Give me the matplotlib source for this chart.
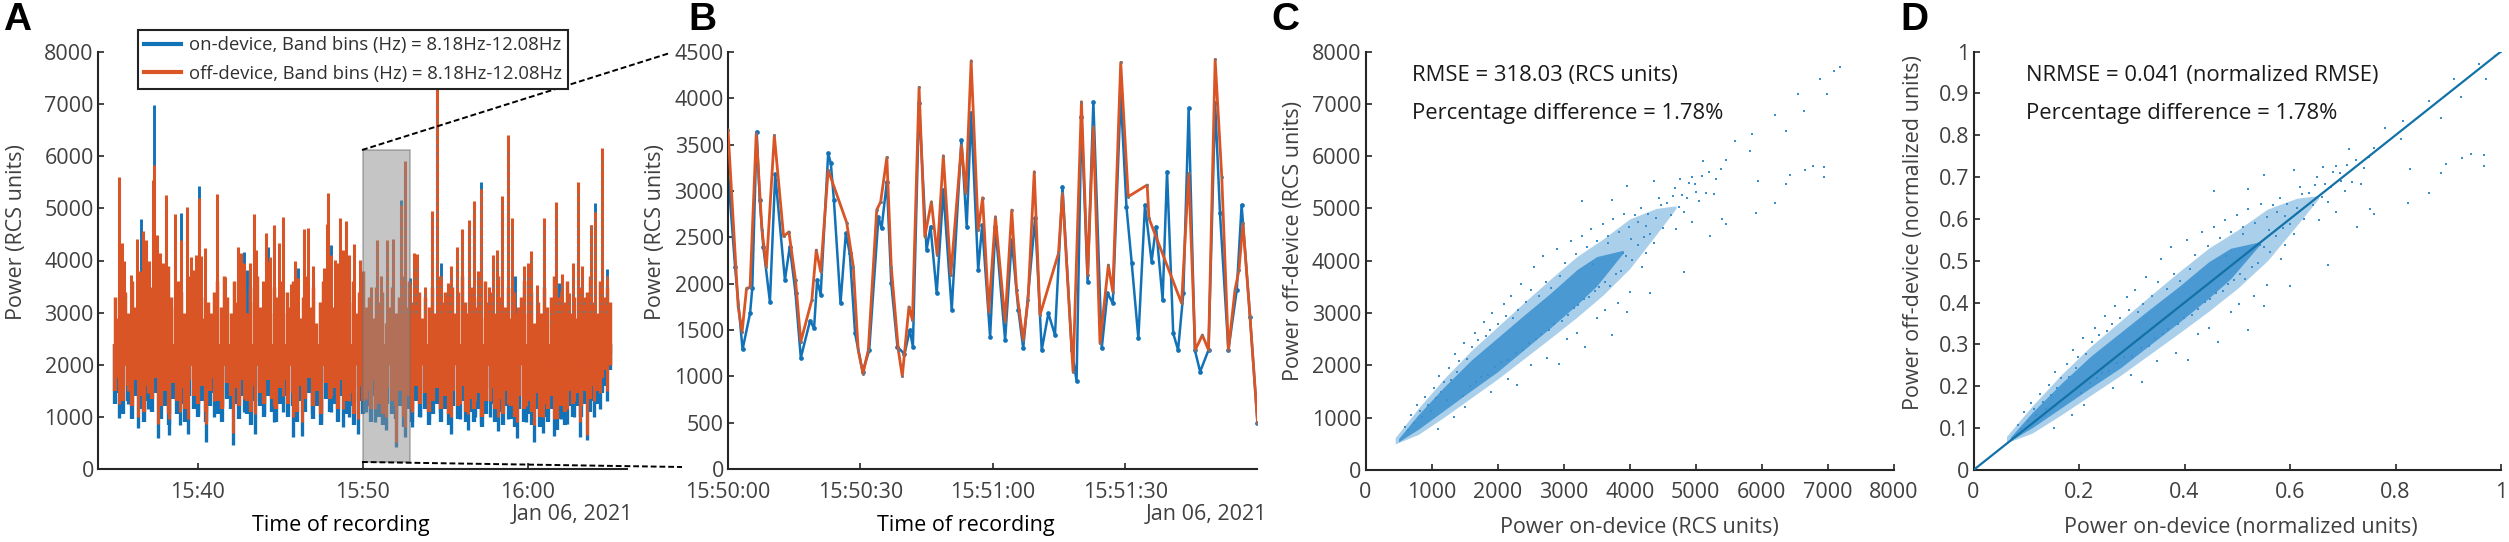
import numpy as np
import matplotlib
matplotlib.use('Agg')
import matplotlib.pyplot as plt
from matplotlib.lines import Line2D
from matplotlib.patches import Rectangle

W, H = 2509, 542
BLUE = '#1272b8'
ORANGE = '#d95525'
TXT = '#404040'
AXC = '#262626'
plt.rcParams['font.family'] = ['Open Sans', 'DejaVu Sans']

# Panel A, tall spikes: minutes after 15:35, then top of on-device and off-device
a_peak_t = [0.24, 0.4, 0.55, 0.96, 1.35, 1.57, 1.67, 1.85, 2.05, 2.32, 2.38, 2.52, 2.7, 2.9, 3.09, 3.65,
            4.01, 4.34, 4.58, 4.75, 4.9, 5.06, 5.2, 5.45, 5.8, 6.16, 6.64, 7.47, 7.6, 7.83, 8.0, 8.2,
            8.42, 8.55, 8.93, 9.13, 9.25, 9.4, 9.63, 9.94, 10.2, 10.68, 10.88, 11.1, 11.45, 11.7, 11.98,
            12.68, 12.83, 12.9, 13.07, 13.3, 13.5, 13.65, 13.8, 13.97, 14.2, 14.5, 14.85, 15.0,
            15.5, 15.89, 16.1, 16.46, 16.82, 17.33, 17.57, 17.85, 18.1, 18.3, 18.75, 19.22, 19.53, 19.75,
            20.2, 20.34, 20.74, 21.02, 21.47, 21.77, 22.0, 22.2, 22.68, 22.92, 23.16, 23.43, 23.81, 24.07,
            24.24, 24.78, 25.0, 25.23, 25.55, 26.01, 26.4, 26.7, 26.9, 27.1, 27.5, 27.77, 28.03, 28.3,
            28.5, 28.86, 29.1, 29.49, 29.8]
a_peak_on = [5400, 4200, 3900, 3600, 4300, 4800, 4450, 4300, 3900, 5350, 6990, 4350, 4050, 3800, 5100, 4750,
             4920, 4850, 3950, 3700, 3950, 5420, 3950, 4100, 2950, 5100, 3550, 4100, 4000, 4160, 3820, 3800,
             4750, 4050, 3450, 4400, 4260, 3950, 4500, 4200, 4650, 3400, 3850, 3850, 4450, 4450, 3750,
             3700, 4550, 5150, 4290, 3850, 3800, 4650, 4050, 4600, 3950, 4200, 3850, 3550,
             3400, 4250, 3600, 4250, 4300, 5160, 5700, 3660, 3950, 3900, 3400, 4800, 7000, 3950,
             3400, 3750, 4100, 4450, 4650, 5000, 3700, 5510, 3350, 3950, 4050, 5100, 6200, 4650,
             3710, 3750, 3800, 4050, 3400, 4650, 2800, 4950, 3560, 3600, 3250, 3800, 5300, 3750,
             3200, 4690, 5100, 5950, 3830]
a_peak_off = [5595, 4330, 4000, 3720, 4420, 3800, 4570, 4400, 4000, 5540, 5830, 4490, 4150, 3950, 5260, 4890,
              4400, 5020, 4060, 3810, 4100, 5200, 4090, 4240, 3000, 5270, 3680, 4260, 4140, 3950, 3000, 3950,
              4900, 4210, 3600, 4530, 4000, 4070, 4680, 4330, 4830, 3540, 3990, 3660, 4600, 4620, 3890,
              3850, 4700, 5300, 4100, 4010, 3950, 4810, 4210, 4760, 4100, 4320, 4010, 3670,
              3500, 4400, 3700, 4400, 4420, 5070, 5900, 3550, 4140, 4130, 3500, 4950, 7700, 3700,
              3560, 3890, 4250, 4600, 4780, 5150, 3800, 5380, 3490, 4100, 4210, 5240, 6410, 4810,
              3000, 3890, 3950, 4180, 3530, 4810, 2900, 5120, 3300, 3740, 3370, 3960, 5500, 3890,
              3300, 4690, 4930, 6160, 3700]

# Panel A, deep dips: minutes after 15:35 and bottom of each trace
a_dip_t = [0.26, 0.8, 1.4, 2.0, 2.6, 3.25, 3.9, 4.4, 5.0, 5.5, 6.0, 6.5, 7.15, 7.8, 8.45, 9.0, 9.6, 10.2,
           10.8, 11.35, 11.9, 12.5, 13.1, 13.8, 14.2, 14.7, 15.2, 15.75, 16.4, 17.05, 17.55, 18.0, 18.5,
           19.0, 19.7, 20.35, 20.9, 21.4, 21.8, 22.2, 22.7, 23.2, 23.8, 24.35, 24.9, 25.4, 25.95, 26.6,
           27.0, 27.4, 27.8, 28.15, 28.6, 29.0, 29.4, 29.8]
a_dip_on = [970, 1250, 780, 1150, 590, 650, 840, 680, 1050, 525, 1000, 1200, 460, 1100, 680, 1050, 900, 1100,
            620, 640, 1050, 900, 1100, 800, 1000, 680, 1100, 900, 750, 430, 620, 800, 1000,
            960, 1100, 680, 950, 740, 1000, 880, 1000, 720, 950, 590, 900, 525, 700, 640,
            950, 860, 1000, 620, 555, 1000, 1145, 1300]
a_dip_off = [1250, 1500, 1000, 1450, 870, 950, 1100, 950, 1300, 860, 1300, 1500, 700, 1350, 1050, 1300, 1200, 1400,
             1000, 900, 1300, 1200, 1400, 1150, 1300, 950, 1350, 1150, 1000, 520, 800, 1100, 1300,
             1250, 1350, 1000, 1250, 1050, 1300, 1150, 1300, 1000, 1250, 900, 1200, 850, 1000, 950,
             1250, 1150, 1300, 900, 650, 1300, 1450, 1500]

# Panel A, shorter spikes along the whole recording, evenly spaced readings
a_minor_top = [3300, 2900, 3700, 3400, 3000, 3600, 3100, 3800, 3300, 3000, 3900, 3500, 3200, 3700, 3000, 3500, 3900,
               3300, 3100, 3600, 3400, 3000, 3700, 3200, 3500, 3000, 3300, 2900, 3200, 2800, 3400, 3600, 3100, 3700,
               3300, 3000, 3600, 3200, 3800, 3400, 3000, 3500, 3200, 3700, 3100, 3400, 3700, 3000, 3500, 3300, 3600,
               3000, 3400, 3100, 3600, 3200, 2900, 3300, 3700, 3100, 3500, 2800, 3200, 3600, 3000, 3400, 3100, 3700,
               3300, 2900, 3500, 3200, 3600, 3000, 3400, 3800, 3100, 3300, 2900, 3500, 3200, 3400, 2800, 3100, 3500,
               3000, 3300, 3700, 3100, 3600, 3200, 3000, 3400, 2900, 3300, 3100, 3500, 3000, 3700, 3200, 3400,
               3100, 3500, 3000, 3400, 3700, 3200, 3000, 3500, 3100, 3300, 2900, 3600, 3200, 3400, 3000, 3700, 3300,
               3100, 3500, 2900, 3400, 3100, 3300, 3600, 3000, 3400, 2800, 3200, 3000, 3500, 3100, 3300, 3700, 3000,
               3400, 3200, 3600, 3000, 3300, 2900, 3500, 3100, 3400, 3700, 3200, 3000, 3600, 3300, 3500, 3200]
a_minor_low_off = [1500, 1750, 1300, 1600, 1200, 1700, 1400, 1100, 1600, 1350, 1750, 1200, 1500, 1050, 1650, 1300,
                   1550, 1150, 1700, 1400, 1250, 1600, 1100, 1500, 1750, 1300, 1150, 1650, 1400, 1550, 1200, 1700,
                   1300, 1100, 1600, 1450, 1250, 1700, 1350, 1150, 1550, 1700, 1250, 1450, 1100, 1600, 1350, 1750,
                   1200, 1500, 1050, 1650, 1350, 1550, 1150, 1700, 1300, 1450, 1050, 1600, 1300, 1500, 1150, 1700,
                   1250, 1050, 1550, 1300, 1200, 1500, 1000, 1400, 1150, 1600, 1250, 1450, 1100, 1300, 1550, 1150,
                   1400, 1050, 1500, 1200, 1600, 1100, 1350, 1150, 1450, 1000, 1300, 1550, 1150, 1350, 1050, 1500,
                   1200, 1000, 1400, 1150, 1300, 1100, 1450, 1000, 1250, 1150, 1400, 950, 1200, 1100, 1500, 1250,
                   1450, 1200, 1500, 1350, 1600, 1500, 1750, 1900, 2200]
a_minor_low_on = [1250, 1450, 1050, 1300, 950, 1400, 1150, 900, 1300, 1100, 1450, 950, 1200, 850, 1350, 1050,
                  1250, 900, 1400, 1150, 1000, 1300, 900, 1200, 1450, 1050, 900, 1350, 1150, 1250, 950, 1400,
                  1050, 850, 1300, 1200, 1000, 1400, 1100, 900, 1250, 1400, 1000, 1200, 900, 1300, 1100, 1450,
                  950, 1200, 850, 1350, 1100, 1250, 900, 1400, 1050, 1200, 850, 1300, 1050, 1200, 900, 1400,
                  1000, 850, 1250, 1050, 950, 1200, 800, 1150, 900, 1300, 1000, 1150, 850, 1050, 1250, 900,
                  1150, 850, 1200, 950, 1300, 900, 1100, 900, 1150, 800, 1050, 1250, 900, 1100, 850, 1200,
                  950, 800, 1150, 900, 1050, 850, 1150, 800, 1000, 900, 1150, 750, 950, 850, 1200, 1000,
                  1200, 1000, 1250, 1100, 1300, 1250, 1450, 1600, 1900]

# Panel B, seconds after 15:50:00
b_t_on = [0, 1.6, 3.3, 5, 5.5, 6.5, 7.2, 8, 9.5, 10.7, 12.9, 14, 15.3, 16.5, 18.6, 19.5, 20.2, 21, 22.7, 23.3, 24,
          25.5, 26.7, 27.6, 28.8, 30.5, 32, 34.1, 34.8, 36, 37, 38.4, 40, 41.2, 41.9, 43.3, 45, 45.9, 47.3, 48.8,
          50.7, 52.9, 54.1, 55.1, 56.7, 57.6, 59.4, 60.6, 62.8, 64.3, 65.8, 66.9, 69.6, 71.1, 72.6, 74.1, 75.8,
          77.9, 79, 80.1, 81.5, 82.8, 84.7, 86, 87.2, 89, 90.3, 91.5, 93, 94.5, 96, 97, 98.5, 99.5, 100.9, 102,
          103.2, 104.4, 105.8, 107, 108.9, 110.4, 111.5, 113.4, 115.3, 116.4, 118.3, 120]
b_on = [3200, 2183, 1290, 1680, 1950, 3640, 2900, 2400, 1805, 3180, 2039, 2400, 1900, 1200, 1600, 1518, 2040, 1880,
        3406, 3300, 2903, 1787, 2543, 2327, 1464, 1050, 1280, 2723, 2597, 3100, 2004, 1320, 1240, 1500, 1320, 3946,
        2363, 2615, 1896, 3010, 1716, 3550, 2615, 3838, 2147, 2633, 1428, 2615, 1392, 2471, 1716, 1302, 2705, 1284,
        1680, 1446, 3046, 1284, 950, 3802, 2022, 3964, 1302, 1900, 1788, 4036, 2831, 2219, 1410, 2849, 2237, 2615,
        1824, 3209, 1464, 1284, 1900, 3892, 1284, 1050, 1284, 3946, 2758, 1284, 1932, 2849, 1644, 500]
b_t_off = [0, 2.3, 3.2, 4.2, 5, 6.4, 7.7, 8.7, 10.5, 12.6, 13.8, 15.3, 16.5, 19, 20, 21, 22.7, 26.9, 28.4, 29.5, 30.6,
           31.8, 33.7, 34.6, 36, 37, 38.6, 39.5, 41, 41.8, 43.3, 44.6, 46.1, 47.4, 48.8, 50.5, 52.9, 53.9, 55.1,
           56.7, 57.7, 59.1, 60.6, 62.8, 64.3, 65.4, 66.9, 68, 69.4, 70.7, 74.9, 75.8, 78.2, 80.1, 81.5, 82.8,
           84.3, 86.2, 87.2, 89, 90.7, 95, 95.4, 102.8, 104.4, 105.9, 107.5, 108.9, 110.4, 111.9, 113.4, 114.9,
           115.8, 116.7, 118.3, 120]
b_off = [3658, 1750, 1481, 1950, 1960, 3620, 2580, 2180, 3600, 2510, 2560, 2040, 1375, 1825, 2363, 2130, 3226, 2658,
         2183, 1285, 1030, 1285, 2795, 2885, 3363, 2183, 1285, 1000, 1750, 1608, 4119, 2507, 2885, 2309, 3381, 2094,
         3496, 2975, 4406, 2579, 2928, 1698, 2723, 1590, 2795, 1932, 1392, 1824, 3209, 1662, 2327, 2975, 1050, 3964,
         2094, 3694, 1356, 2201, 1914, 4388, 2939, 3065, 2705, 1788, 3190, 1284, 1446, 1284, 4420, 3154, 1284, 1932,
         2147, 2650, 1644, 500]

# Panels C and D, the cloud read as bands: on-device value with lower and upper off-device edge
cloud_on = [500, 800, 1200, 1600, 2000, 2400, 2800, 3200, 3500, 3900]
cloud_low = [540, 780, 1150, 1520, 1880, 2300, 2720, 3160, 3520, 4150]
cloud_high = [600, 1060, 1600, 2100, 2530, 2960, 3380, 3830, 4080, 4200]
halo_on = [450, 800, 1200, 1600, 2000, 2400, 2800, 3200, 3600, 4000, 4400, 4700]
halo_low = [500, 680, 1020, 1380, 1740, 2130, 2520, 2920, 3350, 3850, 4500, 5000]
halo_high = [620, 1180, 1760, 2280, 2740, 3200, 3650, 4080, 4420, 4800, 5000, 5050]

# Panels C and D, single points around and beyond the bands
scatter_on = [600, 650, 690, 740, 780, 830, 850, 900, 940, 990, 1030, 1060, 1110, 1140, 1190, 1230, 1270, 1300, 1350,
              1390, 1420, 1470, 1490, 1530, 1580, 1610, 1650, 1680, 1710, 1750, 1790, 1820, 1850, 1880, 1920, 1960,
              2000, 2050, 2090, 2120, 2160, 2200, 2240, 2280, 2310, 2350, 2390, 2430, 2470, 2510, 2550, 2580, 2630,
              2650, 2690, 2730, 2780, 2810, 2860, 2900, 2950, 2980, 3020, 3060, 3110, 3150, 3190, 3220, 3270, 3300,
              3350, 3390, 3420, 3470, 3510, 3540, 3590, 3630, 3670, 3700, 3740, 3790, 3830, 3870, 3910, 3950, 3990,
              4040, 4080, 4120, 4170, 4210, 4270, 4310, 4400, 4440, 4500, 4560, 4620, 4680, 4740, 4790, 4860, 4890,
              5000, 5090, 5150, 5200, 5310, 5380, 1340, 1100, 1500, 1900, 2150, 2500, 2750, 3050, 3200, 3500, 3620,
              3820, 4000,
              2295, 2926, 3328, 3730, 3960, 4303, 4820, 5222, 5450, 5909, 6196, 6425, 6655, 6942, 6942, 6770, 6368,
              5943,
              3271, 3730, 3960, 4360, 4763, 4935, 5107, 5450, 5600, 5852, 5818, 6196, 6632, 6368, 6540, 6980, 6885,
              7093, 7180,
              4246, 4475, 4648, 4820, 4993, 5050, 5280, 5394, 4935, 4705, 4360, 4130, 4017, 4189, 4246, 3902, 3673,
              3443]
scatter_off = [830, 760, 1060, 900, 1240, 1120, 1010, 1400, 1250, 1130, 1560, 1380, 1800, 1500, 1690, 1330, 1950, 1720,
               2210, 1880, 2080, 1420, 2420, 2130, 1600, 2350, 2620, 1690, 2480, 1780, 2830, 2560, 1820, 2680, 3010,
               1960, 2800, 2070, 3180, 2950, 2100, 3320, 2900, 2240, 3050, 3560, 2290, 3210, 2430, 3450, 3880, 2500,
               3330, 2600, 4100, 3600, 2680, 3480, 2800, 4230, 3700, 2850, 3950, 2970, 4380, 3090, 4130, 3150, 4470,
               3260, 4260, 3300, 4600, 3420, 4380, 3500, 4700, 3600, 4480, 3520, 4800, 3740, 4550, 3800, 4900, 4100,
               4650, 4020, 4880, 4300, 5000, 4450, 4900, 4520, 4820, 5200, 4620, 5100, 4880, 5400, 5030, 5260, 5200,
               5480, 5320, 5620, 5300, 5700, 5560, 5750, 1010, 780, 1200, 1500, 1740, 2000, 2150, 2500, 2620, 2900,
               3050, 3200, 3400,
               1624, 2022, 2353, 2585, 3016, 3380, 3778, 4474, 4706, 4905, 5103, 5634, 5733, 5800, 5602, 5813, 5467,
               5534,
               5138, 5170, 5435, 5520, 5568, 5600, 5899, 5932, 6296, 6429, 6097, 6793, 6860, 6475, 7190, 7190, 7468,
               7620, 7700,
               4672, 5070, 5236, 4937, 5468, 5136, 5270, 4805, 4739, 4607, 4341, 4739, 4407, 3877, 4142, 4142, 4341,
               3943]

a_yticks = [0, 1000, 2000, 3000, 4000, 5000, 6000, 7000, 8000]
b_yticks = [0, 500, 1000, 1500, 2000, 2500, 3000, 3500, 4000, 4500]
a_xlabels = ['15:40', '15:50', '16:00']
b_xlabels = ['15:50:00', '15:50:30', '15:51:00', '15:51:30']
d_xticks = [0, 0.2, 0.4, 0.6, 0.8, 1]
d_xlabels = ['0', '0.2', '0.4', '0.6', '0.8', '1']
d_yticks = [0, 0.1, 0.2, 0.3, 0.4, 0.5, 0.6, 0.7, 0.8, 0.9, 1]
d_ylabels = ['0', '0.1', '0.2', '0.3', '0.4', '0.5', '0.6', '0.7', '0.8', '0.9', '1']


def make_axes(left, right, top=52, bottom=469):
    # pixel box of the reference turned into figure fractions
    ax = fig.add_axes([left / W, 1 - bottom / H, (right - left) / W, (bottom - top) / H])
    ax.spines['top'].set_visible(False)
    ax.spines['right'].set_visible(False)
    ax.spines['left'].set_linewidth(1.5)
    ax.spines['bottom'].set_linewidth(1.5)
    ax.spines['left'].set_color(AXC)
    ax.spines['bottom'].set_color(AXC)
    ax.tick_params(direction='in', length=4, width=1.2, color=AXC, labelcolor=TXT, labelsize=15.5, pad=3)
    ax.tick_params(axis='x', pad=9)
    return ax


def put_text(x, y, s, **kw):
    kw.setdefault('ha', 'center')
    kw.setdefault('va', 'center')
    kw.setdefault('color', TXT)
    kw.setdefault('fontsize', 15.5)
    fig.text(x / W, 1 - y / H, s, **kw)


def draw_cloud(ax, x_scale, y_scale):
    ax.fill_between(np.array(halo_on) / x_scale, np.array(halo_low) / y_scale, np.array(halo_high) / y_scale,
                    color='#a9cfea', linewidth=0)
    ax.fill_between(np.array(cloud_on) / x_scale, np.array(cloud_low) / y_scale, np.array(cloud_high) / y_scale,
                    color='#4a99d3', linewidth=0)
    ax.scatter(np.array(scatter_on) / x_scale, np.array(scatter_off) / y_scale, s=2.2, marker='s',
               color='#3c8fcc', linewidths=0)


fig = plt.figure(figsize=(W / 100, H / 100), dpi=100)

# A
ax = make_axes(98, 627)
peak_t = np.array(a_peak_t)
on_top = np.array(a_peak_on)
off_top = np.array(a_peak_off)
ax.vlines(peak_t, 2000, on_top, color=BLUE, linewidth=2.1, zorder=1)
ax.vlines(a_dip_t, a_dip_on, 2000, color=BLUE, linewidth=2.4, zorder=1)
ax.vlines(np.linspace(0, 30, len(a_minor_low_on)), a_minor_low_on, 2400, color=BLUE, linewidth=3.1, zorder=1)
ax.vlines(peak_t, 2000, off_top, color=ORANGE, linewidth=2.2, zorder=2)
ax.vlines(a_dip_t, a_dip_off, 2000, color=ORANGE, linewidth=2.2, zorder=2)
ax.vlines(np.linspace(0, 30, len(a_minor_top)), 2000, a_minor_top, color=ORANGE, linewidth=2.5, zorder=2)
ax.vlines(np.linspace(0, 30, len(a_minor_low_off)), a_minor_low_off, 2400, color=ORANGE, linewidth=3.1, zorder=2)
late = peak_t > 15
ax.vlines(peak_t[late], 3000, np.minimum(on_top, off_top)[late], color='#8a6f68', linewidth=1.5,
          linestyles=(0, (1, 3)), zorder=3)
ax.add_patch(Rectangle((15, 140), 2.87, 5978, facecolor='#8c8c8c', edgecolor='#6e6e6e', alpha=0.5,
                       linewidth=1.2, zorder=4))
ax.set_xlim(-1.04, 31.02)
ax.set_ylim(0, 8000)
ax.set_xticks([5, 15, 25])
ax.set_xticklabels(a_xlabels)
ax.set_yticks(a_yticks)
handles = [Line2D([], [], color=BLUE, lw=3), Line2D([], [], color=ORANGE, lw=3)]
leg = fig.legend(handles, ['on-device, Band bins (Hz) = 8.18Hz-12.08Hz', 'off-device, Band bins (Hz) = 8.18Hz-12.08Hz'],
                 loc='upper left', bbox_to_anchor=(138 / W, 1 - 30 / H), fontsize=13.3, frameon=True,
                 fancybox=False, edgecolor='#222222', framealpha=1, handlelength=2.0, handletextpad=0.4,
                 labelspacing=0.55, borderpad=0.35, borderaxespad=0, labelcolor='#303030')
leg.get_frame().set_linewidth(1.5)
leg.set_zorder(5)

# B
ax = make_axes(728, 1257.5)
ax.plot(b_t_on, b_on, color=BLUE, lw=1.8, marker='o', ms=3.4, mew=0, zorder=2)
ax.plot(b_t_off, b_off, color=ORANGE, lw=2, zorder=3)
ax.plot(b_t_off, b_off, ls='none', marker='o', ms=2.2, mew=0, color='#8a6f68', zorder=4)
ax.set_xlim(0, 120)
ax.set_ylim(0, 4500)
ax.set_xticks([0, 30, 60, 90])
ax.set_xticklabels(b_xlabels)
ax.set_yticks(b_yticks)

# C
ax = make_axes(1365.5, 1894, 51.5, 470)
draw_cloud(ax, 1, 1)
ax.set_xlim(0, 8000)
ax.set_ylim(0, 8000)
ax.set_xticks(a_yticks)
ax.set_yticks(a_yticks)

# D
ax = make_axes(1973.5, 2501, 51.5, 470)
on_max = max(scatter_on)
off_max = max(scatter_off)
draw_cloud(ax, on_max, off_max)
ax.plot([0, 1], [0, 1], color='#1272a8', lw=1.6, zorder=5)
ax.set_xlim(0, 1)
ax.set_ylim(0, 1)
ax.set_xticks(d_xticks)
ax.set_xticklabels(d_xlabels)
ax.set_yticks(d_yticks)
ax.set_yticklabels(d_ylabels)

# dashed zoom lines from the grey box of A to panel B
fig.add_artist(Line2D([362 / W, 670 / W], [1 - 150 / H, 1 - 53 / H], color='black', lw=1.4, ls=(0, (3, 1.5))))
fig.add_artist(Line2D([362 / W, 682 / W], [1 - 462 / H, 1 - 467 / H], color='black', lw=1.4, ls=(0, (3, 1.5))))

# panel letters
for x, s in [(3, 'A'), (688, 'B'), (1271, 'C'), (1900, 'D')]:
    put_text(x, 20, s, ha='left', color='black', fontsize=28, fontweight='bold', family='Liberation Sans')

# axis titles
put_text(17, 232, 'Power (RCS units)', rotation=90)
put_text(655, 232, 'Power (RCS units)', rotation=90)
put_text(1293, 241, 'Power off-device (RCS units)', rotation=90)
put_text(1914, 233, 'Power off-device (normalized units)', rotation=90)
put_text(341, 525, 'Time of recording', color='black')
put_text(966, 525, 'Time of recording', color='black')
put_text(572, 515, 'Jan 06, 2021')
put_text(1206, 515, 'Jan 06, 2021')
put_text(1639, 528, 'Power on-device (RCS units)')
put_text(2241, 528, 'Power on-device (normalized units)')

# notes inside C and D
for x, s in [(1412.5, 'RMSE = 318.03 (RCS units)'), (2026.5, 'NRMSE = 0.041 (normalized RMSE)')]:
    put_text(x, 75, s, ha='left', color='#1a1a1a', fontsize=15.8)
    put_text(x, 114, 'Percentage difference = 1.78%', ha='left', color='#1a1a1a', fontsize=15.8)

fig.savefig('out.png', dpi=100)
